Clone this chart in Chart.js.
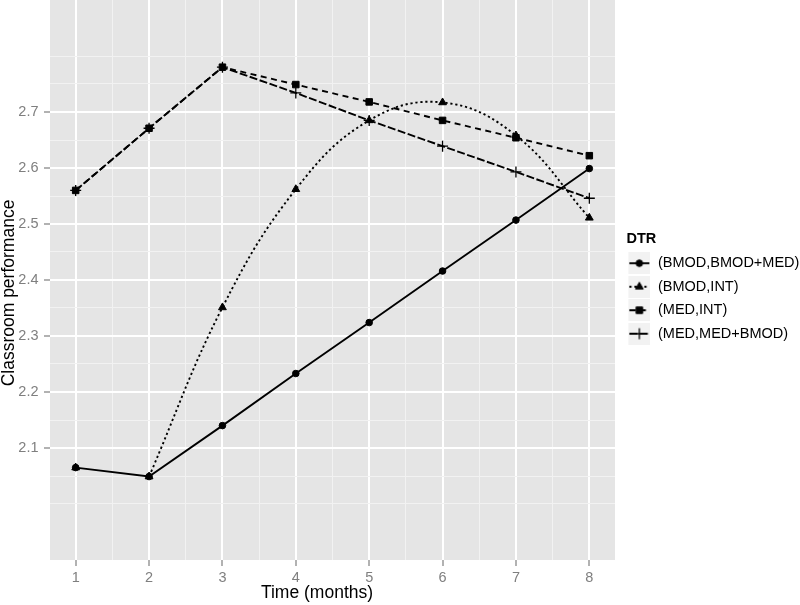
<!DOCTYPE html>
<html>
<head>
<meta charset="utf-8">
<script src="https://cdn.jsdelivr.net/npm/chart.js@4.4.1/dist/chart.umd.min.js"></script>
<style>
html,body{margin:0;padding:0;background:#ffffff;}
#wrap{width:800px;height:605px;position:relative;}
</style>
</head>
<body>
<div id="wrap"><canvas id="c" width="800" height="605"></canvas></div>
<script>
// ---------- data ----------
const months = [1, 2, 3, 4, 5, 6, 7, 8];
const seriesLabels = ['(BMOD,BMOD+MED)', '(BMOD,INT)', '(MED,INT)', '(MED,MED+BMOD)'];
const bmodBmodMed = [2.065, 2.049, 2.140, 2.233, 2.324, 2.416, 2.507, 2.599];
const bmodInt     = [2.065, 2.049, 2.351, 2.562, 2.685, 2.717, 2.658, 2.511];
const medInt      = [2.560, 2.671, 2.780, 2.749, 2.718, 2.685, 2.654, 2.622];
const medMedBmod  = [2.560, 2.671, 2.780, 2.734, 2.685, 2.639, 2.593, 2.546];
const xTickLabels = ['1', '2', '3', '4', '5', '6', '7', '8'];
const xMinorTicks = [1.5, 2.5, 3.5, 4.5, 5.5, 6.5, 7.5];
const yTickLabels = ['2.1', '2.2', '2.3', '2.4', '2.5', '2.6', '2.7'];
const yMinorTicks = [2.0, 2.05, 2.15, 2.25, 2.35, 2.45, 2.55, 2.65, 2.75, 2.8];
const xTitle = 'Time (months)';
const yTitle = 'Classroom performance';
const legendTitle = 'DTR';

// ---------- styles ----------
const seriesStyles = [
  { dash: [],         point: 'circle',   r: 3.3, bw: 1 },
  { dash: [2.2, 2.8], point: 'triangle', r: 4.5, bw: 1 },
  { dash: [6, 4.5],   point: 'rect',     r: 4.6, bw: 1 },
  { dash: [8, 2.5],   point: 'cross',    r: 5.5, bw: 1.3 }
];
const LINE_W = 1.9;
const FONT = "'Liberation Sans', Arial, Helvetica, sans-serif";

const xMajor = xTickLabels.map(Number);
const yMajor = yTickLabels.map(Number);
const xAll = xMajor.concat(xMinorTicks).sort((a, b) => a - b);
const yAll = yMajor.concat(yMinorTicks).sort((a, b) => a - b);
const near = (a, b) => Math.abs(a - b) < 1e-9;

function drawMarker(g, type, x, y, r, bw) {
  g.fillStyle = '#000'; g.strokeStyle = '#000'; g.lineWidth = bw; g.setLineDash([]);
  g.beginPath();
  if (type === 'circle') { g.arc(x, y, r, 0, Math.PI * 2); g.fill(); g.stroke(); }
  else if (type === 'triangle') {
    let a = 0;
    g.moveTo(x + Math.sin(a) * r, y - Math.cos(a) * r);
    a += 2 * Math.PI / 3; g.lineTo(x + Math.sin(a) * r, y - Math.cos(a) * r);
    a += 2 * Math.PI / 3; g.lineTo(x + Math.sin(a) * r, y - Math.cos(a) * r);
    g.closePath(); g.fill(); g.stroke();
  } else if (type === 'rect') {
    const s = r * Math.SQRT1_2; g.rect(x - s, y - s, 2 * s, 2 * s); g.fill(); g.stroke();
  } else if (type === 'cross') {
    g.moveTo(x, y - r); g.lineTo(x, y + r); g.moveTo(x - r, y); g.lineTo(x + r, y); g.stroke();
  }
}
function makeKey(st) {
  const cv = document.createElement('canvas');
  cv.width = 26; cv.height = 22;
  const g = cv.getContext('2d');
  g.fillStyle = '#F2F2F2'; g.fillRect(4, 0, 22, 22);
  g.strokeStyle = '#000'; g.lineWidth = LINE_W; g.setLineDash(st.dash);
  g.beginPath(); g.moveTo(5, 11); g.lineTo(25, 11); g.stroke();
  drawMarker(g, st.point, 15, 11, st.r, st.bw);
  return cv;
}
const keyCanvases = seriesStyles.map(makeKey);

const pts = arr => months.map((m, i) => ({ x: m, y: arr[i] }));
function lineDs(label, arr, st, extra) {
  return Object.assign({
    label: label, data: pts(arr), borderColor: '#000', backgroundColor: '#000',
    borderWidth: LINE_W, borderDash: st.dash, tension: 0, fill: false,
    pointStyle: st.point, pointRadius: st.r, pointHoverRadius: st.r,
    pointBackgroundColor: '#000', pointBorderColor: '#000', pointBorderWidth: st.bw
  }, extra || {});
}

const datasets = [
  lineDs(seriesLabels[0], bmodBmodMed, seriesStyles[0]),
  // points of (BMOD,INT) at every month
  lineDs(seriesLabels[1], bmodInt, seriesStyles[1], { showLine: false }),
  // smooth dotted curve of (BMOD,INT) from month 2 on
  Object.assign(lineDs(seriesLabels[1], bmodInt, seriesStyles[1], { tension: 0.4, pointRadius: 0, pointHoverRadius: 0 }),
    { data: pts(bmodInt).slice(1) }),
  lineDs(seriesLabels[2], medInt, seriesStyles[2]),
  lineDs(seriesLabels[3], medMedBmod, seriesStyles[3])
];

function isMajor(scale, v) {
  const list = scale && scale.axis === 'x' ? xMajor : yMajor;
  return list.some(m => near(m, v));
}
function gridOpts() {
  return {
    color: c => (c.tick && isMajor(c.scale, c.tick.value)) ? '#FFFFFF' : '#F2F2F2',
    lineWidth: c => (c.tick && isMajor(c.scale, c.tick.value)) ? 2 : 1,
    tickColor: c => (c.tick && isMajor(c.scale, c.tick.value)) ? '#7F7F7F' : 'rgba(0,0,0,0)',
    tickLength: 6,
    tickWidth: 1.2,
    drawOnChartArea: true,
    drawTicks: true
  };
}

function patch(obj, fn, dx, dy) {
  if (!obj || typeof obj[fn] !== 'function' || obj['__p_' + fn]) return;
  const orig = obj[fn];
  obj[fn] = function () {
    this.ctx.save(); this.ctx.translate(dx, dy);
    const r = orig.apply(this, arguments);
    this.ctx.restore(); return r;
  };
  obj['__p_' + fn] = true;
}

const panelPlugin = {
  id: 'panel',
  beforeDraw(chart) {
    const a = chart.chartArea, ctx = chart.ctx;
    ctx.save();
    ctx.fillStyle = '#E5E5E5';
    ctx.fillRect(a.left, a.top, a.right - a.left, a.bottom - a.top);
    ctx.restore();
    patch(chart.scales.x, 'drawTitle', -15.5, 0);
    patch(chart.scales.y, 'drawTitle', 0, 13);
    patch(chart.legend, 'drawTitle', 11.5, 0);
    patch(chart.legend, '_drawTitle', 11.5, 0);
  }
};

Chart.defaults.font.family = FONT;

new Chart(document.getElementById('c'), {
  type: 'line',
  data: { datasets: datasets },
  plugins: [panelPlugin],
  options: {
    responsive: false,
    animation: false,
    devicePixelRatio: 1,
    events: [],
    layout: { padding: 0, autoPadding: false },
    plugins: {
      tooltip: { enabled: false },
      legend: {
        display: true,
        position: 'right',
        align: 'start',
        maxWidth: 185,
        onClick: null,
        title: {
          display: true, text: legendTitle, position: 'start', color: '#000',
          font: { size: 14.5, weight: 'bold', lineHeight: 1 },
          padding: { top: 232, bottom: 0.5 }
        },
        labels: {
          usePointStyle: true,
          pointStyleWidth: 26.75,
          padding: 9,
          color: '#000',
          font: { size: 14.5 },
          generateLabels: () => seriesLabels.map((t, i) => ({
            text: t, pointStyle: keyCanvases[i], fillStyle: 'rgba(0,0,0,0)',
            strokeStyle: 'rgba(0,0,0,0)', lineWidth: 0, hidden: false, fontColor: '#000', datasetIndex: i
          }))
        }
      }
    },
    scales: {
      x: {
        type: 'linear', min: 0.65, max: 8.35, bounds: 'data',
        afterBuildTicks: s => { s.ticks = xAll.map(v => ({ value: v })); },
        afterFit: s => { s.height = 45; s.paddingLeft = 0; s.paddingRight = 0; },
        ticks: {
          autoSkip: false, maxRotation: 0, minRotation: 0, color: '#7F7F7F',
          font: { size: 14.5 }, padding: 3,
          callback: v => { const i = xMajor.findIndex(m => near(m, v)); return i >= 0 ? xTickLabels[i] : ''; }
        },
        grid: gridOpts(),
        border: { display: false },
        title: { display: true, text: xTitle, color: '#000', font: { size: 17.5, lineHeight: 1 }, padding: { top: 0, bottom: 3 } }
      },
      y: {
        type: 'linear', min: 1.9, max: 2.9, bounds: 'data',
        afterBuildTicks: s => { s.ticks = yAll.map(v => ({ value: v })); },
        afterFit: s => { s.width = 50; s.paddingTop = 0; s.paddingBottom = 0; },
        ticks: {
          autoSkip: false, color: '#7F7F7F', font: { size: 14.5 }, padding: 5.5,
          callback: v => { const i = yMajor.findIndex(m => near(m, v)); return i >= 0 ? yTickLabels[i] : ''; }
        },
        grid: gridOpts(),
        border: { display: false },
        title: { display: true, text: yTitle, color: '#000', font: { size: 17.5, lineHeight: 1 }, padding: { top: 0.25, bottom: 0 } }
      }
    }
  }
});
</script>
</body>
</html>
